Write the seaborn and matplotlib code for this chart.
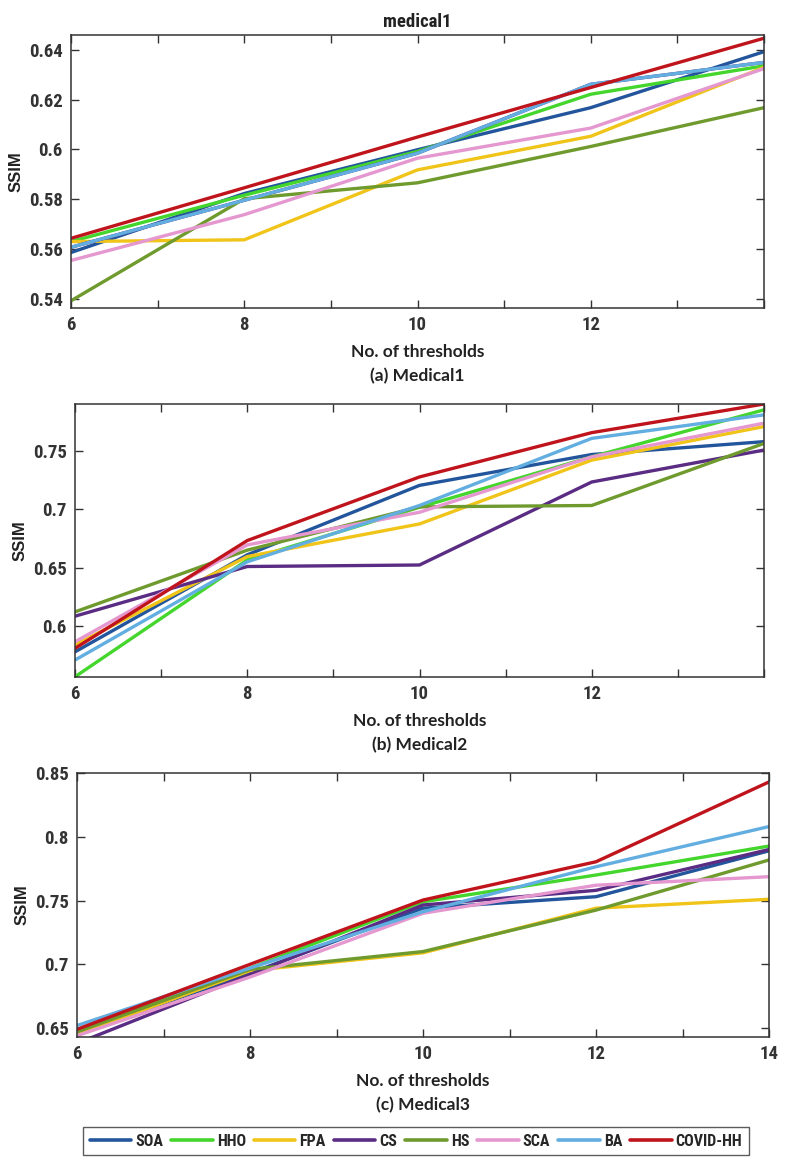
import numpy as np
import pandas as pd
import seaborn as sns
import matplotlib
matplotlib.use("Agg")
import matplotlib.pyplot as plt
from matplotlib import font_manager
from matplotlib.ticker import FixedLocator, MultipleLocator
from matplotlib.lines import Line2D

# ---------------- data ----------------
thresholds = [6, 8, 10, 12, 14]
algorithms = ["SOA", "HHO", "FPA", "CS", "HS", "SCA", "BA", "COVID-HH"]
colors = ["#22559c", "#44d62c", "#f0c419", "#5a2c83", "#6f9a2e", "#e597cf", "#62aee0", "#c0141c"]

medical1 = {
    "SOA":      [0.5586, 0.5823, 0.5999, 0.6168, 0.6393],
    "HHO":      [0.5630, 0.5816, 0.5992, 0.6222, 0.6336],
    "FPA":      [0.5630, 0.5637, 0.5918, 0.6053, 0.6330],
    "CS":       [0.5607, 0.5796, 0.5985, 0.6262, 0.6350],
    "HS":       [0.5392, 0.5802, 0.5866, 0.6012, 0.6168],
    "SCA":      [0.5554, 0.5738, 0.5965, 0.6086, 0.6325],
    "BA":       [0.5607, 0.5796, 0.5985, 0.6262, 0.6350],
    "COVID-HH": [0.5643, 0.5846, 0.6050, 0.6249, 0.6447],
}
medical2 = {
    "SOA":      [0.5780, 0.6610, 0.7204, 0.7468, 0.7578],
    "HHO":      [0.5567, 0.6566, 0.7017, 0.7448, 0.7850],
    "FPA":      [0.5840, 0.6595, 0.6874, 0.7420, 0.7707],
    "CS":       [0.6085, 0.6510, 0.6523, 0.7233, 0.7506],
    "HS":       [0.6122, 0.6650, 0.7020, 0.7032, 0.7563],
    "SCA":      [0.5866, 0.6695, 0.6974, 0.7448, 0.7736],
    "BA":       [0.5710, 0.6550, 0.7032, 0.7606, 0.7807],
    "COVID-HH": [0.5810, 0.6732, 0.7276, 0.7655, 0.7900],
}
medical3 = {
    "SOA":      [0.6460, 0.6930, 0.7440, 0.7530, 0.7890],
    "HHO":      [0.6480, 0.6970, 0.7490, 0.7700, 0.7927],
    "FPA":      [0.6450, 0.6950, 0.7090, 0.7440, 0.7510],
    "CS":       [0.6380, 0.6920, 0.7465, 0.7580, 0.7900],
    "HS":       [0.6470, 0.6960, 0.7100, 0.7425, 0.7818],
    "SCA":      [0.6440, 0.6900, 0.7400, 0.7620, 0.7687],
    "BA":       [0.6520, 0.6970, 0.7412, 0.7765, 0.8080],
    "COVID-HH": [0.6490, 0.7000, 0.7504, 0.7804, 0.8430],
}
panel_titles = ["medical1", "", ""]
subcaptions = ["(a) Medical1", "(b) Medical2", "(c) Medical3"]
y_limits = [(0.5363, 0.646), (0.5565, 0.790), (0.643, 0.85)]
y_ticks = [[0.54, 0.56, 0.58, 0.60, 0.62, 0.64],
           [0.60, 0.65, 0.70, 0.75],
           [0.65, 0.70, 0.75, 0.80, 0.85]]
y_ticklabels = [["0.54", "0.56", "0.58", "0.6", "0.62", "0.64"],
                ["0.6", "0.65", "0.7", "0.75"],
                ["0.65", "0.7", "0.75", "0.8", "0.85"]]
x_ticks = [[6, 8, 10, 12], [6, 8, 10, 12], [6, 8, 10, 12, 14]]

# ---------------- fonts ----------------
def pick(names):
    for n in names:
        try:
            font_manager.findfont(font_manager.FontProperties(family=n), fallback_to_default=False)
            return n
        except Exception:
            continue
    return "DejaVu Sans"

narrow = pick(["Liberation Sans Narrow", "Roboto Condensed", "Liberation Sans"])
label_font = pick(["Lato", "Open Sans", "Liberation Sans"])
arial = pick(["Liberation Sans", "DejaVu Sans"])

sns.set_theme(style="white")
plt.rcParams["font.family"] = [arial, "DejaVu Sans"]

W, H = 789, 1162
fig = plt.figure(figsize=(W / 100, H / 100), dpi=100)

# axes boxes in pixels: left, right, top, bottom
boxes = [(71, 764, 35, 308), (75, 764, 404, 677), (77, 769, 773, 1037)]
datasets = [medical1, medical2, medical3]
palette = dict(zip(algorithms, colors))

for i, (data, box) in enumerate(zip(datasets, boxes)):
    l, r, t, b = box
    ax = fig.add_axes([l / W, 1 - b / H, (r - l) / W, (b - t) / H])
    df = pd.DataFrame([
        {"thr": x, "ssim": v, "alg": a}
        for a in algorithms for x, v in zip(thresholds, data[a])
    ])
    sns.lineplot(data=df, x="thr", y="ssim", hue="alg", hue_order=algorithms,
                 palette=palette, linewidth=2.4, legend=False, ax=ax)
    ax.set_xlim(6, 14)
    ax.set_ylim(*y_limits[i])
    ax.xaxis.set_major_locator(FixedLocator(x_ticks[i]))
    ax.xaxis.set_minor_locator(MultipleLocator(1))
    ax.yaxis.set_major_locator(FixedLocator(y_ticks[i]))
    ax.set_yticklabels(y_ticklabels[i])
    ax.set_xticklabels([str(v) for v in x_ticks[i]])
    ax.tick_params(which="both", direction="in", top=True, right=True,
                   bottom=True, left=True, color="#333333")
    ax.tick_params(which="major", length=6, width=1.0, pad=6)
    ax.tick_params(which="minor", length=6, width=1.0)
    for lab in ax.get_xticklabels() + ax.get_yticklabels():
        lab.set_fontfamily(narrow)
        lab.set_fontweight("bold")
        lab.set_fontsize(13.5)
        lab.set_color("#333333")
    for s in ax.spines.values():
        s.set_color("#333333")
        s.set_linewidth(1.1)
    ax.set_xlabel("")
    ax.set_ylabel("SSIM", fontsize=12, fontweight="bold", color="#222222", labelpad=4)
    if panel_titles[i]:
        ax.set_title(panel_titles[i], fontsize=13.5, fontweight="bold",
                     fontfamily=narrow, color="#222222", pad=6)
    cx = (l + r) / 2 / W
    fig.text(cx, 1 - (b + 44) / H, "No. of thresholds", ha="center", va="center",
             fontsize=12.5, fontweight="bold", fontfamily=label_font, color="#222222")
    fig.text(cx, 1 - (b + 68) / H, subcaptions[i], ha="center", va="center",
             fontsize=12.5, fontweight="bold", fontfamily=label_font, color="#222222")

handles = [Line2D([0], [0], color=c, lw=2.6) for c in colors]
leg = fig.legend(handles, algorithms, loc="center", bbox_to_anchor=(416 / W, 1 - 1141 / H),
                 ncol=8, frameon=True, fancybox=False, handlelength=2.6,
                 handletextpad=0.25, columnspacing=0.5, borderpad=0.4,
                 borderaxespad=0.0,
                 prop={"family": narrow, "weight": "bold", "size": 11.5})
leg.get_frame().set_edgecolor("#333333")
leg.get_frame().set_linewidth(1.0)

fig.savefig("out.png", dpi=100)
